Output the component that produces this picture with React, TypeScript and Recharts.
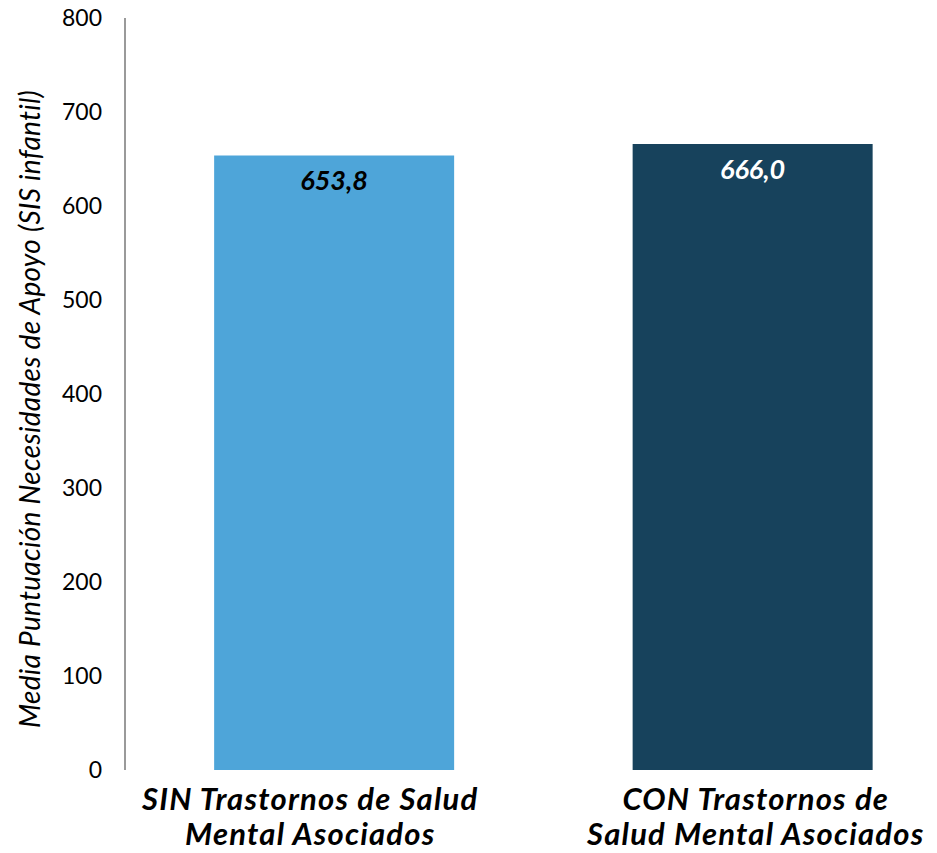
import { Bar, BarChart, Cell, LabelList, XAxis, YAxis } from "recharts";

const categoryLines: string[][] = [
  ["SIN Trastornos de Salud", "Mental Asociados"],
  ["CON Trastornos de", "Salud Mental Asociados"],
];
const meanScores = [653.8, 666.0];
const barColors = ["#4EA5D9", "#17425C"];
const valueLabelColors = ["#000000", "#FFFFFF"];
const yTicks = [0, 100, 200, 300, 400, 500, 600, 700, 800];
const yAxisTitle = "Media Puntuación Necesidades de Apoyo (SIS infantil)";

const FONT = "Lato, 'Noto Sans', sans-serif";

const chartData = categoryLines.map((lines, i) => ({
  name: lines.join(" "),
  value: meanScores[i],
}));

// Excel-style decimal comma
const formatValue = (v: number) => v.toFixed(1).replace(".", ",");

// the first category label sits a bit left of its bar centre
const tickShift = [-24, 3];

function CategoryTick(props: any) {
  const { x, y, index } = props;
  const lines = categoryLines[index] ?? [];
  const cx = x + (tickShift[index] ?? 0);
  return (
    <text
      x={cx}
      y={y}
      textAnchor="middle"
      fontFamily={FONT}
      fontStyle="italic"
      fontWeight={700}
      fontSize={31}
      letterSpacing={1.2}
      fill="#000"
    >
      {lines.map((line, i) => (
        <tspan key={i} x={cx} y={y + 40 + i * 35}>
          {line}
        </tspan>
      ))}
    </text>
  );
}

function ValueLabel(props: any) {
  const { x, y, width, value, index } = props;
  return (
    <text
      x={x + width / 2}
      y={y + 35}
      textAnchor="middle"
      fontFamily={FONT}
      fontStyle="italic"
      fontWeight={700}
      fontSize={27}
      fill={valueLabelColors[index]}
    >
      {formatValue(value)}
    </text>
  );
}

function AxisTitle(props: any) {
  const { viewBox } = props;
  const cy = viewBox.y + viewBox.height / 2 + 15;
  const bx = 40;
  return (
    <text
      x={bx}
      y={cy}
      transform={`rotate(-90, ${bx}, ${cy})`}
      textAnchor="middle"
      fontFamily={FONT}
      fontStyle="italic"
      fontSize={28}
      letterSpacing={0.3}
      fill="#000"
    >
      {yAxisTitle}
    </text>
  );
}

export default function App() {
  return (
    <div
      style={{
        position: "absolute",
        left: 0,
        top: 0,
        width: 937,
        height: 853,
        overflow: "hidden",
        background: "#fff",
      }}
    >
      <BarChart
        width={962}
        height={853}
        data={chartData}
        margin={{ top: 18, right: 0, bottom: 0, left: 0 }}
        barCategoryGap="21.3%"
      >
        <XAxis
          dataKey="name"
          height={83}
          axisLine={false}
          tickLine={false}
          tickSize={0}
          tickMargin={0}
          interval={0}
          tick={<CategoryTick />}
        />
        <YAxis
          width={125}
          domain={[0, 800]}
          ticks={yTicks}
          interval={0}
          axisLine={{ stroke: "#9A9A9A", strokeWidth: 2 }}
          tickLine={false}
          tickSize={0}
          tickMargin={23}
          tick={{ fontFamily: FONT, fontSize: 23, fill: "#000" }}
          label={<AxisTitle />}
        />
        <Bar dataKey="value" isAnimationActive={false}>
          {chartData.map((_, i) => (
            <Cell key={i} fill={barColors[i]} />
          ))}
          <LabelList dataKey="value" content={<ValueLabel />} />
        </Bar>
      </BarChart>
    </div>
  );
}
